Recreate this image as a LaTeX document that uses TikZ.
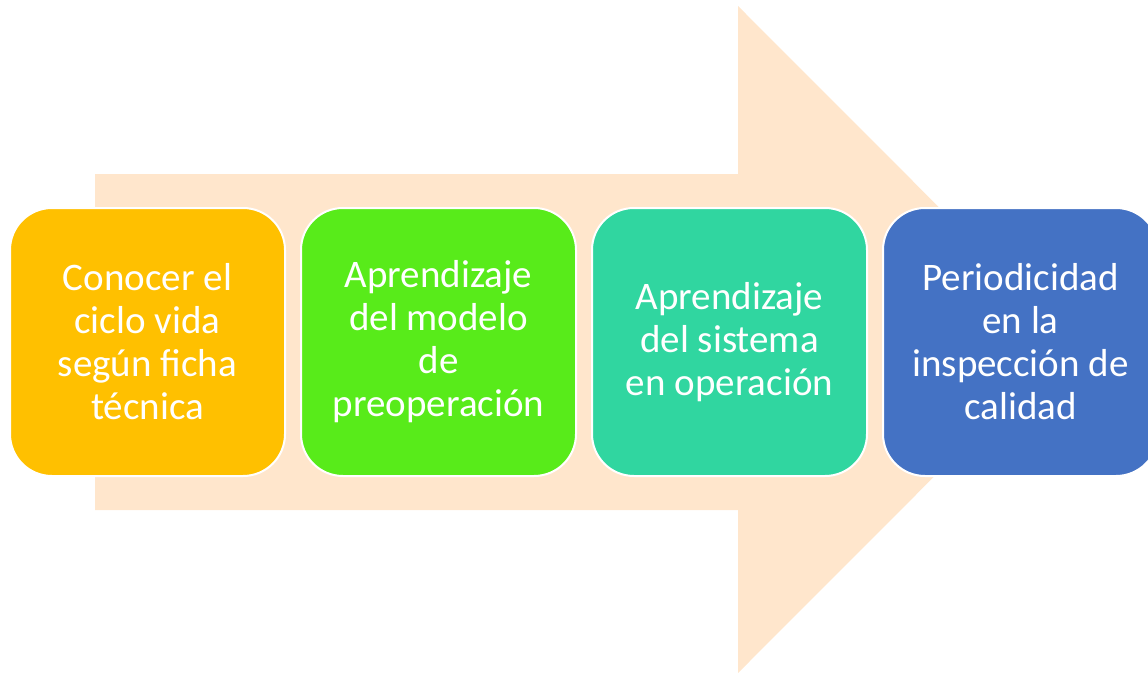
\documentclass[tikz,border=0pt]{standalone}
\usepackage{fontspec}
\setmainfont{Carlito}
\definecolor{peach}{HTML}{FFE6CC}
\definecolor{cOrange}{HTML}{FFC000}
\definecolor{cGreen}{HTML}{58EB1A}
\definecolor{cTeal}{HTML}{30D6A0}
\definecolor{cBlue}{HTML}{4472C4}
\begin{document}
\begin{tikzpicture}[x=1pt,y=-1pt,
  stepbox/.style={draw=white, line width=2pt, rounded corners=42pt,
    minimum width=275pt, minimum height=268pt, inner sep=0pt,
    align=center, text=white, font=\fontsize{39}{43}\selectfont}]
\useasboundingbox (0,0) rectangle (1148,674);
\clip (0,0) rectangle (1148,674);
\fill[peach] (95,174) -- (738,174) -- (738,6) -- (1071,339.5) -- (738,673) -- (738,510) -- (95,510) -- cycle;
\node[stepbox, fill=cOrange] (b1) at (147.5,342) {Conocer el\\ciclo vida\\según ficha\\técnica};
\node[stepbox, fill=cGreen] (b2) at (438.5,342) {Aprendizaje\\del modelo\\de\\preoperación};
\node[stepbox, fill=cTeal] (b3) at (729.5,342) {Aprendizaje\\del sistema\\en operación};
\node[stepbox, fill=cBlue] (b4) at (1020.5,342) {Periodicidad\\en la\\inspección de\\calidad};
\end{tikzpicture}
\end{document}
